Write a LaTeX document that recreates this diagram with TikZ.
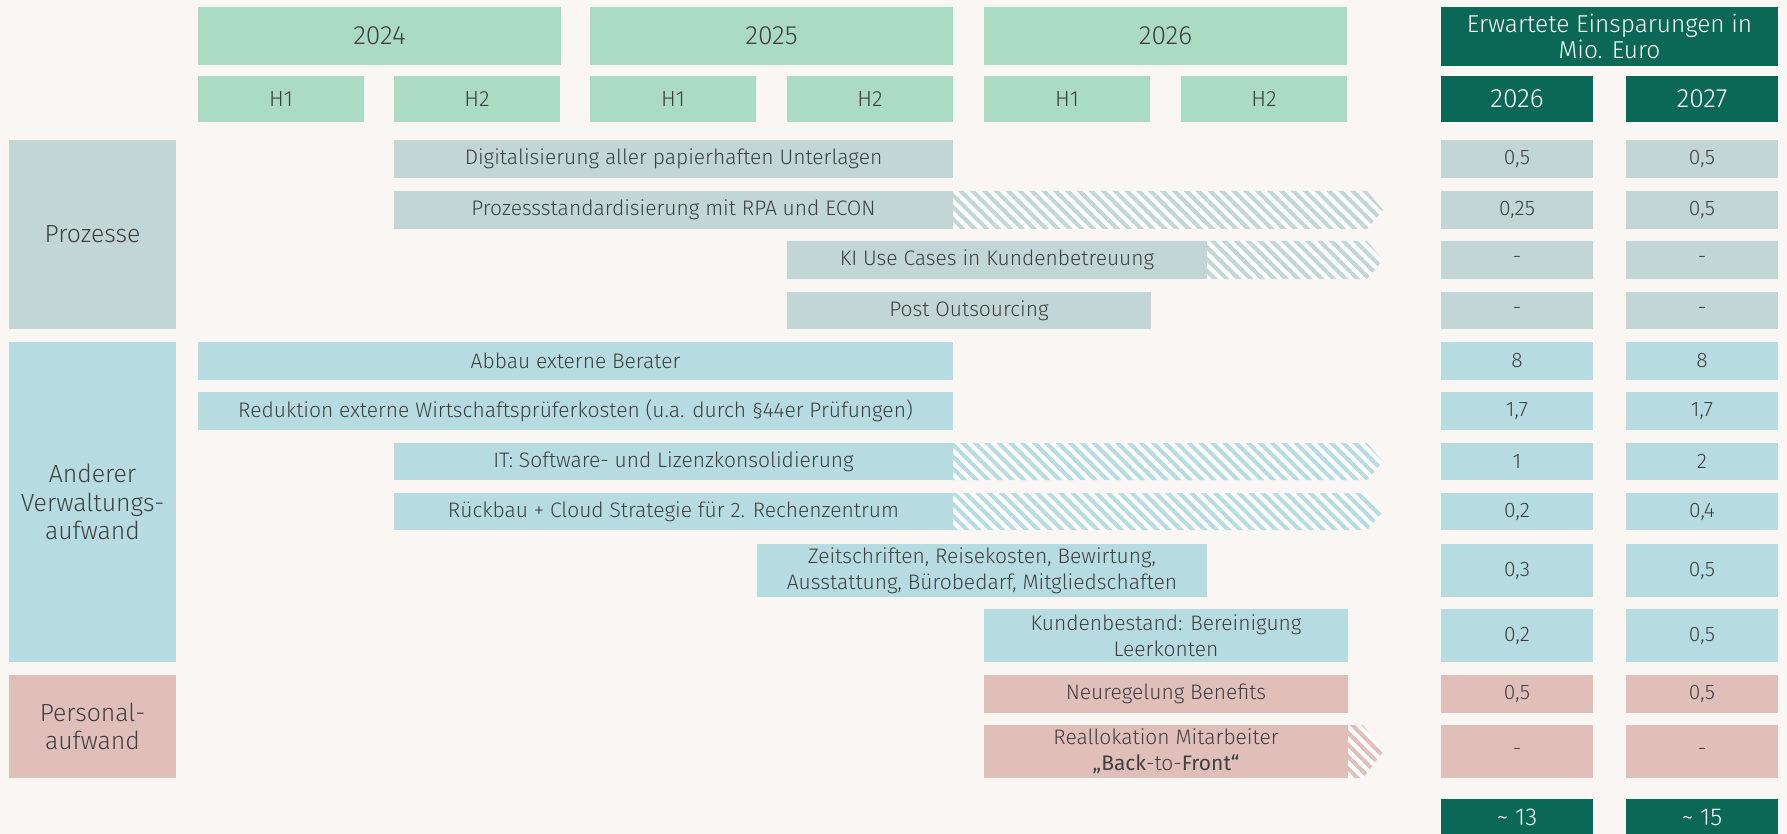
\documentclass[tikz,border=0pt]{standalone}
\usepackage{fontspec}
\setmainfont{Fira Sans}[UprightFont=* Light, BoldFont=*]
\newfontfamily\regfont{Fira Sans}
\usetikzlibrary{calc,patterns.meta}
\definecolor{paper}{HTML}{F9F6F3}
\definecolor{ink}{HTML}{404040}
\definecolor{hdgreen}{HTML}{ABDBC5}
\definecolor{dkgreen}{HTML}{0B6856}
\definecolor{procgrey}{HTML}{C1D6D5}
\definecolor{verwblue}{HTML}{B6DCE1}
\definecolor{perspink}{HTML}{E0BFBA}

% hatched tail behind a bar: bar node, tip depth, colour
\newcommand{\tailto}[3]{%
  \path[tail=#3] (#1.north east) -- ($(#1.north east -| tip)+(-#2,0)$) -- (#1.east -| tip)
    -- ($(#1.south east -| tip)+(-#2,0)$) -- (#1.south east) -- cycle;}

\begin{document}
\begin{tikzpicture}[
      x=0.5pt, y=-0.5pt,
      wd/.style={minimum width=#1*0.5pt},
      ht/.style={minimum height=#1*0.5pt},
      cell/.style={anchor=north west,inner sep=0pt,outer sep=0pt,align=center,
                   text=ink,font=\fontsize{10.5}{12.8}\selectfont},
      yearhd/.style={cell,fill=hdgreen,font=\fontsize{13.2}{15}\selectfont,wd=363,ht=58},
      halfhd/.style={cell,fill=hdgreen,font=\fontsize{11}{13}\selectfont,wd=166,ht=46},
      sumhd/.style={cell,fill=dkgreen,text=white,font=\fontsize{12.2}{13}\selectfont},
      proc/.style={cell,fill=procgrey},
      verw/.style={cell,fill=verwblue},
      pers/.style={cell,fill=perspink},
      cat/.style={cell,font=\fontsize{12.4}{14.25}\selectfont,wd=167},
      tail/.style={fill=white,postaction={pattern={Lines[angle=-45,distance=4.2pt,line width=2pt]},
                   pattern color=#1}}
    ]

    \useasboundingbox[fill=paper] (0,0) rectangle (1787,834);
    \coordinate (tip) at (1383,0);

    % time axis
    \node[yearhd] (y2024) at (198,7) {2024};
    \node[yearhd] (y2025) at (590,7) {2025};
    \node[yearhd] (y2026) at (984,7) {2026};
    \node[halfhd] (h1a) at (198,76)  {H1};
    \node[halfhd] (h2a) at (394,76)  {H2};
    \node[halfhd] (h1b) at (590,76)  {H1};
    \node[halfhd] (h2b) at (787,76)  {H2};
    \node[halfhd] (h1c) at (984,76)  {H1};
    \node[halfhd] (h2c) at (1181,76) {H2};

    % savings header
    \node[sumhd,wd=337,ht=59] (savings) at (1441,7) {Erwartete Einsparungen in\\Mio. Euro};
    \node[sumhd,wd=152,ht=46,font=\fontsize{13.2}{15}\selectfont] (s2026) at (1441,76) {2026};
    \node[sumhd,wd=152,ht=46,font=\fontsize{13.2}{15}\selectfont] (s2027) at (1626,76) {2027};

    % categories
    \node[cat,fill=procgrey,ht=189] (prozesse) at (9,140) {Prozesse};
    \node[cat,fill=verwblue,ht=320] (verwaltung) at (9,342) {Anderer\\Verwaltungs-\\aufwand};
    \node[cat,fill=perspink,ht=103] (personal) at (9,675) {Personal-\\aufwand};

    % measures
    \node[proc,wd=559,ht=38] (digi)  at (394,140) {Digitalisierung aller papierhaften Unterlagen};
    \node[proc,wd=559,ht=38] (rpa)   at (394,191) {Prozessstandardisierung mit RPA und ECON};
    \node[proc,wd=420,ht=38] (ki)    at (787,241) {KI Use Cases in Kundenbetreuung};
    \node[proc,wd=364,ht=37] (post)  at (787,292) {Post Outsourcing};
    \node[verw,wd=755,ht=38] (berater) at (198,342) {Abbau externe Berater};
    \node[verw,wd=755,ht=38] (wp)    at (198,392) {Reduktion externe Wirtschaftsprüferkosten (u.a. durch §44er Prüfungen)};
    \node[verw,wd=559,ht=37] (it)    at (394,443) {IT: Software- und Lizenzkonsolidierung};
    \node[verw,wd=559,ht=37] (rz)    at (394,493) {Rückbau + Cloud Strategie für 2. Rechenzentrum};
    \node[verw,wd=450,ht=53] (zeit)  at (757,544) {Zeitschriften, Reisekosten, Bewirtung,\\Ausstattung, Bürobedarf, Mitgliedschaften};
    \node[verw,wd=364,ht=53] (kunden) at (984,609) {Kundenbestand: Bereinigung\\Leerkonten};
    \node[pers,wd=364,ht=38] (benefits) at (984,675) {Neuregelung Benefits};
    \node[pers,wd=364,ht=53] (realloc) at (984,725) {Reallokation Mitarbeiter\\{\regfont „Back}-to-{\regfont Front“}};

    % hatched continuations
    \tailto{rpa}{16}{procgrey}
    \tailto{ki}{16}{procgrey}
    \tailto{it}{16}{verwblue}
    \tailto{rz}{16}{verwblue}
    \tailto{realloc}{20}{perspink}

    % savings per measure
    \node[proc,wd=152,ht=38] (digiA) at (1441,140) {0,5};
    \node[proc,wd=152,ht=38] (digiB) at (1626,140) {0,5};
    \node[proc,wd=152,ht=38] (rpaA)  at (1441,191) {0,25};
    \node[proc,wd=152,ht=38] (rpaB)  at (1626,191) {0,5};
    \node[proc,wd=152,ht=38] (kiA)   at (1441,241) {-};
    \node[proc,wd=152,ht=38] (kiB)   at (1626,241) {-};
    \node[proc,wd=152,ht=37] (postA) at (1441,292) {-};
    \node[proc,wd=152,ht=37] (postB) at (1626,292) {-};
    \node[verw,wd=152,ht=38] (beraterA) at (1441,342) {8};
    \node[verw,wd=152,ht=38] (beraterB) at (1626,342) {8};
    \node[verw,wd=152,ht=38] (wpA)   at (1441,392) {1,7};
    \node[verw,wd=152,ht=38] (wpB)   at (1626,392) {1,7};
    \node[verw,wd=152,ht=37] (itA)   at (1441,443) {1};
    \node[verw,wd=152,ht=37] (itB)   at (1626,443) {2};
    \node[verw,wd=152,ht=37] (rzA)   at (1441,493) {0,2};
    \node[verw,wd=152,ht=37] (rzB)   at (1626,493) {0,4};
    \node[verw,wd=152,ht=53] (zeitA) at (1441,544) {0,3};
    \node[verw,wd=152,ht=53] (zeitB) at (1626,544) {0,5};
    \node[verw,wd=152,ht=53] (kundenA) at (1441,609) {0,2};
    \node[verw,wd=152,ht=53] (kundenB) at (1626,609) {0,5};
    \node[pers,wd=152,ht=38] (benefitsA) at (1441,675) {0,5};
    \node[pers,wd=152,ht=38] (benefitsB) at (1626,675) {0,5};
    \node[pers,wd=152,ht=53] (reallocA) at (1441,725) {-};
    \node[pers,wd=152,ht=53] (reallocB) at (1626,725) {-};

    % totals
    \node[sumhd,wd=152,ht=37] (totalA) at (1441,799) {\textasciitilde\ 13};
    \node[sumhd,wd=152,ht=37] (totalB) at (1626,799) {\textasciitilde\ 15};

  \end{tikzpicture}
\end{document}
